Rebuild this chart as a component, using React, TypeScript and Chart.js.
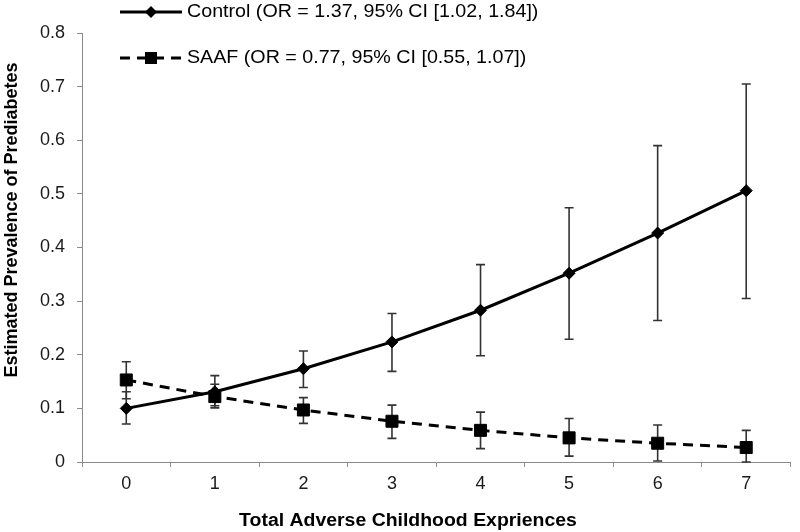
import React, { useEffect, useRef } from 'react';
import { Chart, registerables } from 'chart.js';

Chart.register(...registerables);

const categories = ['0', '1', '2', '3', '4', '5', '6', '7'];
const yTickValues = [0, 0.1, 0.2, 0.3, 0.4, 0.5, 0.6, 0.7, 0.8];

const controlLabel = 'Control (OR = 1.37, 95% CI [1.02, 1.84])';
const saafLabel = 'SAAF (OR = 0.77, 95% CI [0.55, 1.07])';
const xTitle = 'Total Adverse Childhood Expriences';
const yTitle = 'Estimated Prevalence of Prediabetes';

const controlValues = [0.100, 0.131, 0.174, 0.224, 0.283, 0.352, 0.427, 0.506];
const controlLower = [0.071, 0.101, 0.139, 0.169, 0.198, 0.229, 0.264, 0.305];
const controlUpper = [0.131, 0.161, 0.207, 0.277, 0.368, 0.474, 0.590, 0.705];

const saafValues = [0.153, 0.122, 0.097, 0.076, 0.059, 0.045, 0.035, 0.027];
const saafLower = [0.118, 0.105, 0.072, 0.044, 0.025, 0.011, 0.002, 0.000];
const saafUpper = [0.187, 0.145, 0.120, 0.106, 0.093, 0.081, 0.069, 0.059];

const FONT = '"Liberation Sans", Arial, Helvetica, sans-serif';

function drawText(ctx: CanvasRenderingContext2D, text: string, x: number, y: number, font: string, align: CanvasTextAlign, sx: number, rotate = 0) {
  ctx.save();
  ctx.translate(x, y);
  if (rotate) ctx.rotate(rotate);
  ctx.scale(sx, 1);
  ctx.font = font;
  ctx.fillStyle = '#000';
  ctx.textAlign = align;
  ctx.textBaseline = 'middle';
  ctx.fillText(text, 0, 0);
  ctx.restore();
}

const errorBarPlugin = {
  id: 'errorBars',
  beforeDatasetsDraw(chart: any) {
    const ctx = chart.ctx as CanvasRenderingContext2D;
    const xs = chart.scales.x;
    const ys = chart.scales.y;
    const sets = [
      [controlLower, controlUpper],
      [saafLower, saafUpper],
    ];
    ctx.save();
    ctx.strokeStyle = '#333333';
    ctx.lineWidth = 1.6;
    sets.forEach(([lo, hi]) => {
      categories.forEach((_, i) => {
        const x = xs.getPixelForValue(i);
        const y1 = ys.getPixelForValue(lo[i]);
        const y2 = ys.getPixelForValue(hi[i]);
        ctx.beginPath();
        ctx.moveTo(x, y1);
        ctx.lineTo(x, y2);
        ctx.moveTo(x - 4.5, y1);
        ctx.lineTo(x + 4.5, y1);
        ctx.moveTo(x - 4.5, y2);
        ctx.lineTo(x + 4.5, y2);
        ctx.stroke();
      });
    });
    ctx.restore();
  },
};

const annotationPlugin = {
  id: 'annotations',
  afterDraw(chart: any) {
    const ctx = chart.ctx as CanvasRenderingContext2D;
    const bold = `bold 18px ${FONT}`;
    const reg = `19px ${FONT}`;
    // axis titles
    drawText(ctx, yTitle, 12, 220, bold, 'center', 1, -Math.PI / 2);
    drawText(ctx, xTitle, 408, 521, bold, 'center', 1.08);
    // legend
    const rows = [
      { label: controlLabel, y: 12, dash: [] as number[], style: 'diamond' },
      { label: saafLabel, y: 58, dash: [10, 7], style: 'square' },
    ];
    rows.forEach((r) => {
      ctx.save();
      ctx.strokeStyle = '#000';
      ctx.lineWidth = 3;
      ctx.setLineDash(r.dash);
      ctx.beginPath();
      ctx.moveTo(120, r.y);
      ctx.lineTo(182, r.y);
      ctx.stroke();
      ctx.setLineDash([]);
      ctx.fillStyle = '#000';
      ctx.beginPath();
      if (r.style === 'diamond') {
        ctx.moveTo(151 - 6, r.y);
        ctx.lineTo(151, r.y - 6);
        ctx.lineTo(151 + 6, r.y);
        ctx.lineTo(151, r.y + 6);
        ctx.closePath();
      } else {
        ctx.rect(151 - 6, r.y - 6, 12, 12);
      }
      ctx.fill();
      ctx.restore();
      drawText(ctx, r.label, 187, r.y, reg, 'left', 1.035);
    });
  },
};

export default function App() {
  const canvasRef = useRef<HTMLCanvasElement | null>(null);

  useEffect(() => {
    document.body.style.margin = '0';
    const canvas = canvasRef.current;
    if (!canvas) return;
    const chart = new Chart(canvas, {
      type: 'line',
      data: {
        labels: categories,
        datasets: [
          {
            label: controlLabel,
            data: controlValues,
            borderColor: '#000',
            backgroundColor: '#000',
            borderWidth: 3,
            tension: 0,
            pointStyle: 'rectRot',
            pointRadius: 6,
            pointBorderWidth: 1,
            pointBackgroundColor: '#000',
            pointBorderColor: '#000',
          },
          {
            label: saafLabel,
            data: saafValues,
            borderColor: '#000',
            backgroundColor: '#000',
            borderWidth: 3,
            borderDash: [10, 7],
            tension: 0,
            pointStyle: 'rect',
            pointRadius: 8.5,
            pointBorderWidth: 1,
            pointBackgroundColor: '#000',
            pointBorderColor: '#000',
          },
        ],
      },
      options: {
        animation: false,
        responsive: true,
        maintainAspectRatio: false,
        layout: { padding: { top: 33, right: 1, bottom: 0, left: 0 } },
        plugins: {
          legend: { display: false },
          tooltip: { enabled: false },
        },
        scales: {
          x: {
            type: 'category',
            offset: true,
            afterFit: (axis: any) => { axis.height = 70; },
            grid: {
              offset: true,
              drawOnChartArea: false,
              drawTicks: true,
              tickLength: 5,
              color: '#8a8a8a',
            },
            border: { display: true, color: '#8a8a8a', width: 1 },
            ticks: {
              color: '#1a1a1a',
              font: { family: FONT, size: 18 },
              padding: 6,
              maxRotation: 0,
            },
          },
          y: {
            type: 'linear',
            min: 0,
            max: 0.8,
            afterFit: (axis: any) => { axis.width = 82; },
            afterBuildTicks: (axis: any) => {
              axis.ticks = yTickValues.map((v) => ({ value: v }));
            },
            grid: {
              drawOnChartArea: false,
              drawTicks: true,
              tickLength: 5,
              color: '#8a8a8a',
            },
            border: { display: true, color: '#8a8a8a', width: 1 },
            ticks: {
              color: '#1a1a1a',
              font: { family: FONT, size: 18 },
              padding: 12,
              callback: (v: any) => (Number(v) === 0 ? '0' : Number(v).toFixed(1)),
            },
          },
        },
      },
      plugins: [errorBarPlugin, annotationPlugin],
    });
    return () => chart.destroy();
  }, []);

  return (
    <div style={{ position: 'fixed', left: 0, top: 0, width: 800, height: 532, background: '#fff' }}>
      <canvas ref={canvasRef} />
    </div>
  );
}
